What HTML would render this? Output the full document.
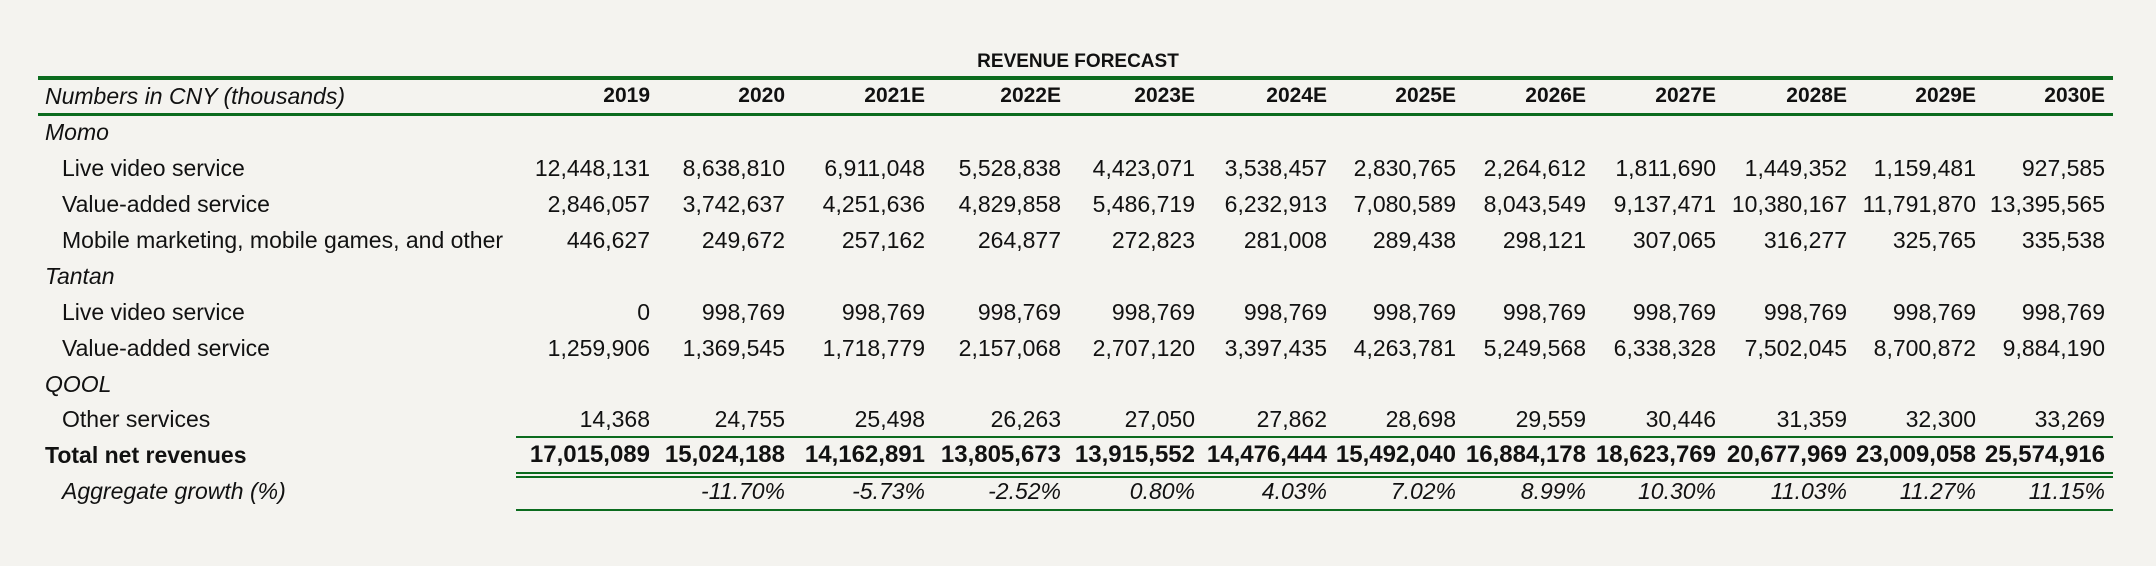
<!DOCTYPE html>
<html><head><meta charset="utf-8"><style>
body{margin:0;background:#f4f3ef;}
#root{position:relative;width:2156px;height:566px;background:#f4f3ef;font-family:"Liberation Sans",sans-serif;color:#111;overflow:hidden}
.t{position:absolute;height:36px;line-height:36px;font-size:23px;white-space:nowrap}
.r{text-align:right;width:200px}
.ln{position:absolute;background:#0b6b1e}
</style></head><body>
<div id="root">
<div class="t" style="left:0;width:2156px;text-align:center;top:44px;font-weight:bold;font-size:19px">REVENUE FORECAST</div>
<div class="ln" style="left:38px;width:2075px;top:76px;height:4px"></div>
<div class="ln" style="left:38px;width:2075px;top:113px;height:3px"></div>
<div class="ln" style="left:516px;width:1597px;top:436px;height:2px"></div>
<div class="ln" style="left:516px;width:1597px;top:472px;height:2px"></div>
<div class="ln" style="left:516px;width:1597px;top:476px;height:2px"></div>
<div class="ln" style="left:516px;width:1597px;top:509px;height:2px"></div>
</div>
<script>
const years=["2019","2020","2021E","2022E","2023E","2024E","2025E","2026E","2027E","2028E","2029E","2030E"];
const momoLive=["12,448,131","8,638,810","6,911,048","5,528,838","4,423,071","3,538,457","2,830,765","2,264,612","1,811,690","1,449,352","1,159,481","927,585"];
const momoVas=["2,846,057","3,742,637","4,251,636","4,829,858","5,486,719","6,232,913","7,080,589","8,043,549","9,137,471","10,380,167","11,791,870","13,395,565"];
const momoMobile=["446,627","249,672","257,162","264,877","272,823","281,008","289,438","298,121","307,065","316,277","325,765","335,538"];
const tantanLive=["0","998,769","998,769","998,769","998,769","998,769","998,769","998,769","998,769","998,769","998,769","998,769"];
const tantanVas=["1,259,906","1,369,545","1,718,779","2,157,068","2,707,120","3,397,435","4,263,781","5,249,568","6,338,328","7,502,045","8,700,872","9,884,190"];
const qoolOther=["14,368","24,755","25,498","26,263","27,050","27,862","28,698","29,559","30,446","31,359","32,300","33,269"];
const totals=["17,015,089","15,024,188","14,162,891","13,805,673","13,915,552","14,476,444","15,492,040","16,884,178","18,623,769","20,677,969","23,009,058","25,574,916"];
const growth=["","-11.70%","-5.73%","-2.52%","0.80%","4.03%","7.02%","8.99%","10.30%","11.03%","11.27%","11.15%"];
const colRight=[650,785,925,1061,1195,1327,1456,1586,1716,1847,1976,2105];
const rows=[
 {label:"Numbers in CNY (thousands)",vals:years,y:96,ind:0,st:"italic",bold:true,fs:21,name:"header-row"},
 {label:"Momo",vals:null,y:132,ind:0,st:"italic",name:"momo-section"},
 {label:"Live video service",vals:momoLive,y:168,ind:1,name:"momo-live-video"},
 {label:"Value-added service",vals:momoVas,y:204,ind:1,name:"momo-value-added"},
 {label:"Mobile marketing, mobile games, and other",vals:momoMobile,y:240,ind:1,name:"momo-mobile-marketing"},
 {label:"Tantan",vals:null,y:276,ind:0,st:"italic",name:"tantan-section"},
 {label:"Live video service",vals:tantanLive,y:312,ind:1,name:"tantan-live-video"},
 {label:"Value-added service",vals:tantanVas,y:348,ind:1,name:"tantan-value-added"},
 {label:"QOOL",vals:null,y:384,ind:0,st:"italic",name:"qool-section"},
 {label:"Other services",vals:qoolOther,y:419,ind:1,name:"qool-other-services"},
 {label:"Total net revenues",vals:totals,y:455,ind:0,bold:true,allBold:true,fs:24,name:"total-net-revenues"},
 {label:"Aggregate growth (%)",vals:growth,y:491,ind:1,st:"italic",allItalic:true,name:"aggregate-growth"}
];
const root=document.getElementById('root');
rows.forEach(r=>{
 const l=document.createElement('div');
 l.className='t';
 
 
 l.style.left=(r.ind?62:45)+'px';l.style.top=(r.y-18)+'px';
 if(r.st==='italic')l.style.fontStyle='italic';
 if(r.allBold){l.style.fontWeight='bold';l.style.fontSize='23px';}
 l.textContent=r.label;root.appendChild(l);
 if(!r.vals)return;
 r.vals.forEach((v,i)=>{
  const c=document.createElement('div');
  c.className='t r';
  
  
  c.style.left=(colRight[i]-200)+'px';c.style.top=(r.y-18)+'px';
  if(r.bold)c.style.fontWeight='bold';
  if(r.fs)c.style.fontSize=r.fs+'px';
  if(r.allItalic)c.style.fontStyle='italic';
  c.textContent=v;root.appendChild(c);
 });
});
</script>
</body></html>
